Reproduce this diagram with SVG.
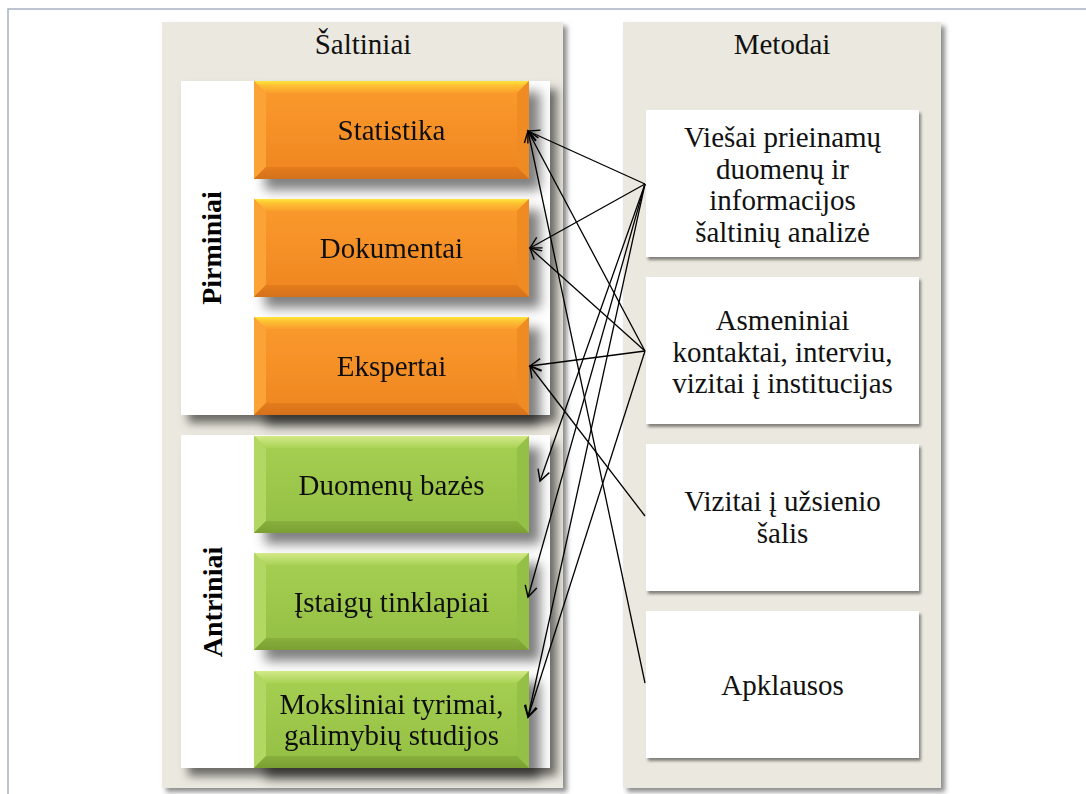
<svg xmlns="http://www.w3.org/2000/svg" xmlns:xlink="http://www.w3.org/1999/xlink" width="1086" height="794" viewBox="0 0 1086 794">
  <style>
    .t { font-family: "Liberation Serif", "Times New Roman", serif; font-size: 29px; fill: #111; text-anchor: middle; }
    .tb { font-family: "Liberation Serif", "Times New Roman", serif; font-size: 28px; font-weight: bold; fill: #000; text-anchor: middle; }
    .panel { fill: #ebe9df; }
    .sub { fill: #ffffff; }
    .mbox { fill: #ffffff; }
    .conn { fill: none; stroke: #000; stroke-width: 1.3; marker-end: url(#arr); }
    .frame { fill: none; stroke: #a9b3c3; stroke-width: 1.5; }
  </style>
  <defs>
    <filter id="shPanel" x="-10%" y="-10%" width="130%" height="130%">
      <feGaussianBlur in="SourceAlpha" stdDeviation="2.5"/>
      <feOffset dx="4" dy="4" result="b"/>
      <feFlood flood-color="#000" flood-opacity="0.45"/>
      <feComposite in2="b" operator="in"/>
      <feMerge><feMergeNode/><feMergeNode in="SourceGraphic"/></feMerge>
    </filter>
    <filter id="shSub" x="-10%" y="-10%" width="130%" height="130%">
      <feGaussianBlur in="SourceAlpha" stdDeviation="5"/>
      <feOffset dx="7" dy="8" result="b"/>
      <feFlood flood-color="#000" flood-opacity="0.55"/>
      <feComposite in2="b" operator="in"/>
      <feMerge><feMergeNode/><feMergeNode in="SourceGraphic"/></feMerge>
    </filter>
    <filter id="shBox" x="-10%" y="-20%" width="130%" height="150%">
      <feGaussianBlur in="SourceAlpha" stdDeviation="6"/>
      <feOffset dx="11" dy="11" result="b"/>
      <feFlood flood-color="#000" flood-opacity="0.5"/>
      <feComposite in2="b" operator="in"/>
      <feMerge><feMergeNode/><feMergeNode in="SourceGraphic"/></feMerge>
    </filter>
    <filter id="shM" x="-5%" y="-5%" width="115%" height="115%">
      <feGaussianBlur in="SourceAlpha" stdDeviation="1.5"/>
      <feOffset dx="2" dy="3" result="b"/>
      <feFlood flood-color="#000" flood-opacity="0.45"/>
      <feComposite in2="b" operator="in"/>
      <feMerge><feMergeNode/><feMergeNode in="SourceGraphic"/></feMerge>
    </filter>

    <linearGradient id="gOr" x1="0" y1="0" x2="0" y2="1">
      <stop offset="0" stop-color="#fb9b2e"/>
      <stop offset="1" stop-color="#ef8520"/>
    </linearGradient>
    <linearGradient id="gOrTop" x1="0" y1="0" x2="0" y2="1">
      <stop offset="0" stop-color="#ffe53a"/>
      <stop offset="0.35" stop-color="#fdc232"/>
      <stop offset="1" stop-color="#fb9e2e"/>
    </linearGradient>
    <linearGradient id="gOrBot" x1="0" y1="0" x2="0" y2="1">
      <stop offset="0" stop-color="#e47c1e"/>
      <stop offset="1" stop-color="#d4711a"/>
    </linearGradient>
    <linearGradient id="gGr" x1="0" y1="0" x2="0" y2="1">
      <stop offset="0" stop-color="#a6d052"/>
      <stop offset="1" stop-color="#93bf44"/>
    </linearGradient>
    <linearGradient id="gGrTop" x1="0" y1="0" x2="0" y2="1">
      <stop offset="0" stop-color="#d3ea88"/>
      <stop offset="1" stop-color="#a9d257"/>
    </linearGradient>
    <linearGradient id="gGrBot" x1="0" y1="0" x2="0" y2="1">
      <stop offset="0" stop-color="#88b03c"/>
      <stop offset="1" stop-color="#7a9f33"/>
    </linearGradient>

    <!-- bevelled block, 275 x 98, drawn at the origin -->
    <g id="bevOrange">
      <rect x="0" y="0" width="275" height="98" fill="url(#gOr)"/>
      <polygon points="0,0 275,0 263,12 12,12" fill="url(#gOrTop)"/>
      <polygon points="0,0 12,12 12,86 0,98" fill="#fca337"/>
      <polygon points="275,0 263,12 263,86 275,98" fill="#f08a22"/>
      <polygon points="0,98 275,98 263,86 12,86" fill="url(#gOrBot)"/>
    </g>
    <g id="bevGreen">
      <rect x="0" y="0" width="275" height="97" fill="url(#gGr)"/>
      <polygon points="0,0 275,0 263,12 12,12" fill="url(#gGrTop)"/>
      <polygon points="0,0 12,12 12,85 0,97" fill="#b2d864"/>
      <polygon points="275,0 263,12 263,85 275,97" fill="#95c046"/>
      <polygon points="0,97 275,97 263,85 12,85" fill="url(#gGrBot)"/>
    </g>

    <marker id="arr" markerWidth="16" markerHeight="16" refX="12" refY="7" orient="auto" markerUnits="userSpaceOnUse">
      <path d="M1,1 L12,7 L1,13" fill="none" stroke="#000" stroke-width="1.4"/>
    </marker>
  </defs>

  <rect x="0" y="0" width="1086" height="794" fill="#ffffff"/>
  <path class="frame" d="M8,794 V9 H1086"/>

  <!-- column backgrounds -->
  <g id="col-saltiniai">
    <rect class="panel" x="162" y="22" width="401" height="766" filter="url(#shPanel)"/>
    <text class="t" x="363" y="54">Šaltiniai</text>
  </g>
  <g id="col-metodai">
    <rect class="panel" x="623" y="22" width="318" height="766" filter="url(#shPanel)"/>
    <text class="t" x="782" y="54">Metodai</text>
  </g>

  <!-- groups of sources -->
  <g id="grp-pirminiai">
    <rect class="sub" x="181" y="81" width="369" height="334" filter="url(#shSub)"/>
    <text class="tb" transform="translate(221,248) rotate(-90)">Pirminiai</text>
  </g>
  <g id="grp-antriniai">
    <rect class="sub" x="181" y="435" width="369" height="333" filter="url(#shSub)"/>
    <text class="tb" transform="translate(222,602) rotate(-90)">Antriniai</text>
  </g>

  <!-- source blocks -->
  <g id="statistika" transform="translate(254,81)" filter="url(#shBox)">
    <use href="#bevOrange"/>
    <text class="t" x="137.5" y="59">Statistika</text>
  </g>
  <g id="dokumentai" transform="translate(254,199)" filter="url(#shBox)">
    <use href="#bevOrange"/>
    <text class="t" x="137.5" y="59">Dokumentai</text>
  </g>
  <g id="ekspertai" transform="translate(254,317)" filter="url(#shBox)">
    <use href="#bevOrange"/>
    <text class="t" x="137.5" y="59">Ekspertai</text>
  </g>
  <g id="duomenu-bazes" transform="translate(254,436)" filter="url(#shBox)">
    <use href="#bevGreen"/>
    <text class="t" x="137.5" y="59">Duomenų bazės</text>
  </g>
  <g id="istaigu-tinklapiai" transform="translate(254,553)" filter="url(#shBox)">
    <use href="#bevGreen"/>
    <text class="t" x="137.5" y="59">Įstaigų tinklapiai</text>
  </g>
  <g id="moksliniai-tyrimai" transform="translate(254,671)" filter="url(#shBox)">
    <use href="#bevGreen"/>
    <text class="t" x="137.5" y="43">Moksliniai tyrimai,</text>
    <text class="t" x="137.5" y="74">galimybių studijos</text>
  </g>

  <!-- methods -->
  <g id="viesai-prieinamu">
    <rect class="mbox" x="646" y="110" width="273" height="147" filter="url(#shM)"/>
    <text class="t" x="782.5" y="147">Viešai prieinamų</text>
    <text class="t" x="782.5" y="179">duomenų ir</text>
    <text class="t" x="782.5" y="210">informacijos</text>
    <text class="t" x="782.5" y="242">šaltinių analizė</text>
  </g>
  <g id="asmeniniai-kontaktai">
    <rect class="mbox" x="646" y="277" width="273" height="147" filter="url(#shM)"/>
    <text class="t" x="782.5" y="330">Asmeniniai</text>
    <text class="t" x="782.5" y="362">kontaktai, interviu,</text>
    <text class="t" x="782.5" y="393">vizitai į institucijas</text>
  </g>
  <g id="vizitai-uzsienio">
    <rect class="mbox" x="646" y="444" width="273" height="147" filter="url(#shM)"/>
    <text class="t" x="782.5" y="511">Vizitai į užsienio</text>
    <text class="t" x="782.5" y="543">šalis</text>
  </g>
  <g id="apklausos">
    <rect class="mbox" x="646" y="611" width="273" height="147" filter="url(#shM)"/>
    <text class="t" x="782.5" y="695">Apklausos</text>
  </g>

  <!-- connectors: method → source -->
  <g id="connectors">
    <line class="conn" x1="645" y1="184" x2="528" y2="131"/>
    <line class="conn" x1="645" y1="184" x2="530" y2="248"/>
    <line class="conn" x1="645" y1="184" x2="540" y2="481"/>
    <line class="conn" x1="645" y1="184" x2="528" y2="597"/>
    <line class="conn" x1="645" y1="184" x2="528" y2="717"/>
    <line class="conn" x1="645" y1="351" x2="528" y2="131"/>
    <line class="conn" x1="645" y1="351" x2="530" y2="248"/>
    <line class="conn" x1="645" y1="351" x2="530" y2="366"/>
    <line class="conn" x1="645" y1="351" x2="528" y2="717"/>
    <line class="conn" x1="645" y1="516" x2="530" y2="366"/>
    <line class="conn" x1="645" y1="683" x2="528" y2="131"/>
  </g>
</svg>
